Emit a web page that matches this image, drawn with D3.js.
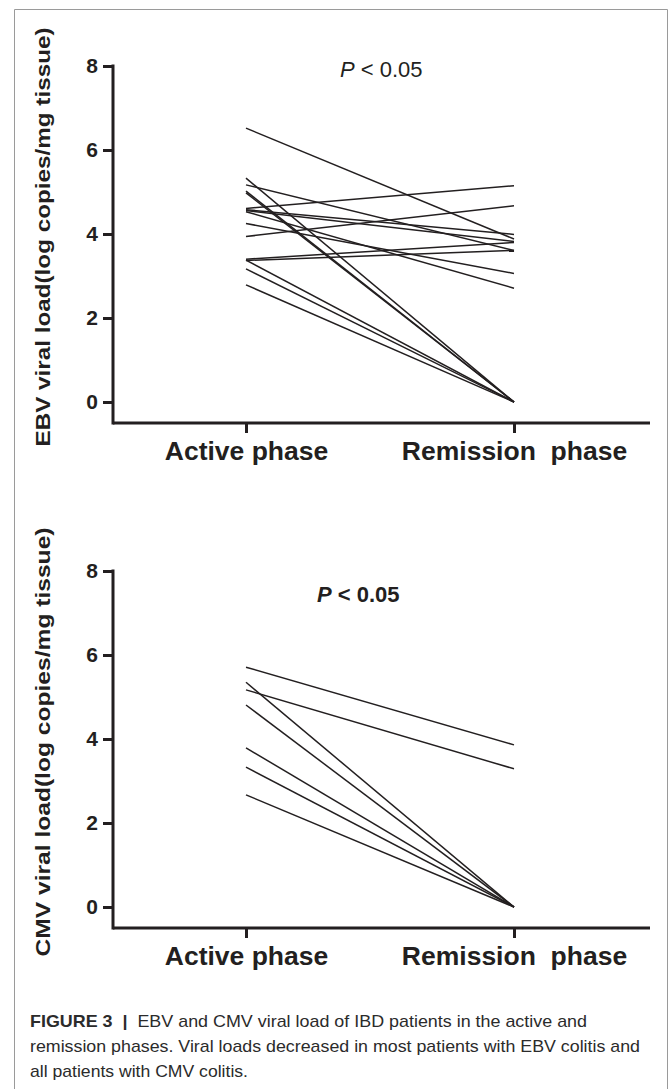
<!DOCTYPE html>
<html>
<head>
<meta charset="utf-8">
<script src="https://cdn.jsdelivr.net/npm/d3@7"></script>
<style>
  body { margin: 0; background: #fff; }
  svg { display: block; }
</style>
</head>
<body>
<svg id="fig" width="668" height="1089"></svg>
<script>
// categories and tick labels
var phases = ["Active phase", "Remission  phase"];
var yTicks = [0, 2, 4, 6, 8];

// EBV viral load per patient: [active, remission]
var ebvActive    = [6.52, 5.33, 5.17, 5.02, 4.98, 4.61, 4.58, 4.56, 4.53, 4.25, 3.94, 3.40, 3.37, 3.38, 3.17, 2.79];
var ebvRemission = [3.88, 0,    3.61, 0,    0,    5.15, 3.99, 3.82, 2.71, 3.06, 4.67, 3.80, 3.61, 0,    0,    0];

// CMV viral load per patient: [active, remission]
var cmvActive    = [5.71, 5.35, 5.17, 4.81, 3.79, 3.33, 2.67];
var cmvRemission = [3.86, 0,    3.29, 0,    0,    0,    0];

var captionLines = [
    [["FIGURE 3", true], ["  |  ", true], ["EBV and CMV viral load of IBD patients in the active and", false]],
    [["remission phases. Viral loads decreased in most patients with EBV colitis and", false]],
    [["all patients with CMV colitis.", false]]
];
var captionWidths = [557, 610, 218];

var svg = d3.select("#fig");
var ink = "#231f20";
var font = "Liberation Sans, Arial, sans-serif";

// frame around the figure
svg.append("path")
    .attr("d", "M14.5,1089 V9.5 H667.5 V1089")
    .style("fill", "none")
    .style("stroke", "#9a9a9a")
    .style("stroke-width", 1);

function drawPanel(offset, active, remission, yTitle, titleLen, pBold) {
    var g = svg.append("g").attr("transform", "translate(0," + offset + ")");

    var x = d3.scalePoint().domain(phases).range([246, 514]);
    var y = d3.scaleLinear().domain([0, 8]).range([402, 66]);
    var axisY = 423;

    // patient lines
    var line = d3.line()
        .x(function (d) { return x(d[0]); })
        .y(function (d) { return y(d[1]); });
    active.forEach(function (a, i) {
        g.append("path")
            .attr("d", line([[phases[0], a], [phases[1], remission[i]]]))
            .style("fill", "none")
            .style("stroke", ink)
            .style("stroke-width", 1.5);
    });

    // y axis
    var yAxis = g.append("g")
        .attr("transform", "translate(113,0)")
        .call(d3.axisLeft(y).tickValues(yTicks).tickSize(10).tickPadding(5).tickSizeOuter(0));
    yAxis.select(".domain").remove();
    g.append("line")
        .attr("x1", 113).attr("x2", 113)
        .attr("y1", y(8) - 1.5).attr("y2", axisY + 1.5)
        .style("stroke", ink).style("stroke-width", 3);
    yAxis.selectAll(".tick line").style("stroke", ink).style("stroke-width", 3);
    yAxis.selectAll(".tick text")
        .style("font-family", font)
        .style("font-weight", "bold")
        .style("font-size", "21px")
        .style("fill", ink);

    // x axis
    var xAxis = g.append("g")
        .attr("transform", "translate(0," + axisY + ")")
        .call(d3.axisBottom(x).tickSize(10).tickPadding(8).tickSizeOuter(0));
    xAxis.select(".domain").remove();
    g.append("line")
        .attr("x1", 113).attr("x2", 650)
        .attr("y1", axisY).attr("y2", axisY)
        .style("stroke", ink).style("stroke-width", 3);
    xAxis.selectAll(".tick line").style("stroke", ink).style("stroke-width", 3);
    xAxis.selectAll(".tick text")
        .style("font-family", font)
        .style("font-weight", "bold")
        .style("font-size", "26.5px")
        .style("fill", ink)
        .style("white-space", "pre")
        .attr("xml:space", "preserve");

    // y title
    g.append("text")
        .attr("transform", "translate(50,237) rotate(-90)")
        .attr("text-anchor", "middle")
        .attr("textLength", titleLen)
        .attr("lengthAdjust", "spacingAndGlyphs")
        .style("font-family", font)
        .style("font-weight", "bold")
        .style("font-size", "21px")
        .style("fill", ink)
        .text(yTitle);

    // p value
    var p = g.append("text")
        .attr("x", pBold ? 317 : 340)
        .attr("y", pBold ? 97 : 77)
        .style("font-family", font)
        .style("font-weight", pBold ? "bold" : "normal")
        .style("font-size", "22px")
        .style("fill", ink);
    p.append("tspan").style("font-style", "italic").text("P");
    p.append("tspan").text(" < 0.05");
}

drawPanel(0, ebvActive, ebvRemission, "EBV viral load(log copies/mg tissue)", 419, false);
drawPanel(505, cmvActive, cmvRemission, "CMV viral load(log copies/mg tissue)", 429, true);

// caption
captionLines.forEach(function (parts, i) {
    var t = svg.append("text")
        .attr("x", 30)
        .attr("y", 1027 + i * 25)
        .attr("xml:space", "preserve")
        .attr("textLength", captionWidths[i])
        .attr("lengthAdjust", "spacingAndGlyphs")
        .style("font-family", "Liberation Sans Narrow, Liberation Sans, Arial, sans-serif")
        .style("font-size", "17px")
        .style("fill", "#2b2b2b");
    parts.forEach(function (p) {
        t.append("tspan")
            .style("font-weight", p[1] ? "bold" : "normal")
            .text(p[0]);
    });
});
</script>
</body>
</html>
